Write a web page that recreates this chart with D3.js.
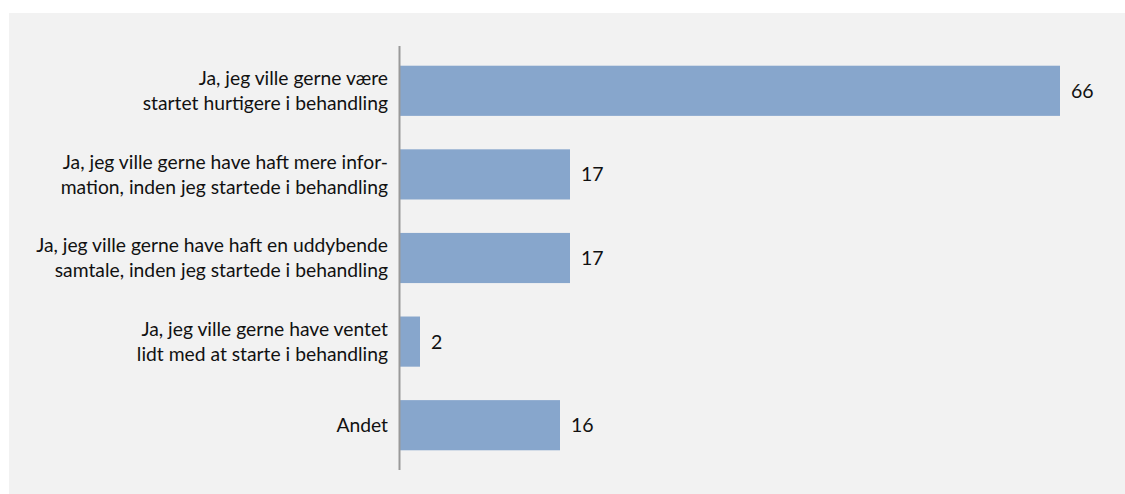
<!DOCTYPE html>
<html>
<head>
<meta charset="utf-8">
<script src="https://cdn.jsdelivr.net/npm/d3@7"></script>
<style>
  html, body { margin: 0; padding: 0; background: #ffffff; }
  svg { display: block; }
  text { font-family: Lato, "Open Sans", sans-serif; fill: #111; }
</style>
</head>
<body>
<svg id="chart" width="1125" height="494"></svg>
<script>
// Category labels, one entry per bar, split into display lines
const categories = [
  "Ja, jeg ville gerne være|startet hurtigere i behandling",
  "Ja, jeg ville gerne have haft mere infor-|mation, inden jeg startede i behandling",
  "Ja, jeg ville gerne have haft en uddybende|samtale, inden jeg startede i behandling",
  "Ja, jeg ville gerne have ventet|lidt med at starte i behandling",
  "Andet"
];
const values = [66, 17, 17, 2, 16];

const W = 1125, H = 494;
const svg = d3.select("#chart");

// panel background
svg.append("rect")
  .attr("x", 9).attr("y", 13)
  .attr("width", W - 9).attr("height", H - 13)
  .attr("fill", "#f2f2f2");

const x = d3.scaleLinear().domain([0, 70]).range([400, 1100]);
const y = d3.scaleBand()
  .domain(d3.range(categories.length))
  .range([49, 467])
  .paddingInner(0.4)
  .paddingOuter(0.2);

// bars
svg.append("g").selectAll("rect")
  .data(values)
  .join("rect")
  .attr("x", x(0))
  .attr("y", (d, i) => y(i))
  .attr("width", d => x(d) - x(0))
  .attr("height", y.bandwidth())
  .attr("fill", "#87a6cc");

// value labels
svg.append("g").selectAll("text")
  .data(values)
  .join("text")
  .attr("x", d => x(d) + 11)
  .attr("y", (d, i) => y(i) + y.bandwidth() / 2)
  .attr("dy", "0.36em")
  .attr("font-size", 19.5)
  .text(d => d);

// category axis line
svg.append("line")
  .attr("x1", x(0) - 0.5).attr("x2", x(0) - 0.5)
  .attr("y1", 46).attr("y2", 470)
  .attr("stroke", "#999999")
  .attr("stroke-width", 2);

// category labels (right-aligned, multi-line)
const lineH = 25;
const lab = svg.append("g").selectAll("text")
  .data(categories)
  .join("text")
  .attr("text-anchor", "end")
  .attr("font-size", 19.3)
  .attr("transform", (d, i) => `translate(388, ${y(i) + y.bandwidth() / 2})`);

lab.each(function(d) {
  const lines = d.split("|");
  const t = d3.select(this);
  lines.forEach((ln, k) => {
    t.append("tspan")
      .attr("x", 0)
      .attr("y", (k - (lines.length - 1) / 2) * lineH)
      .attr("dy", "0.36em")
      .text(ln);
  });
});
</script>
</body>
</html>
